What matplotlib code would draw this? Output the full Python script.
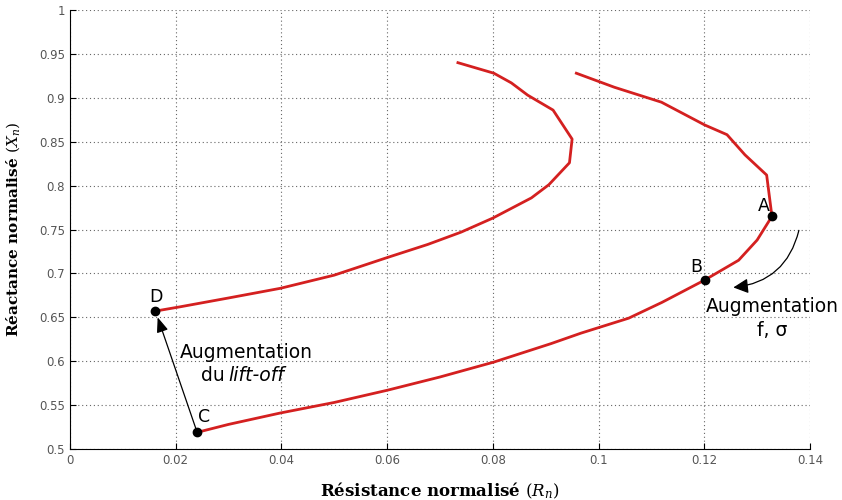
import numpy as np
import matplotlib.pyplot as plt

plt.rcParams['mathtext.fontset'] = 'dejavuserif'

# courbe interieure (D -> haut)
r_in = [0.0161, 0.0209, 0.0300, 0.0398, 0.0500, 0.0550, 0.0600, 0.0677, 0.0740,
        0.0800, 0.0873, 0.0906, 0.0945, 0.0950, 0.0914, 0.0866, 0.0835, 0.0802,
        0.0734]
x_in = [0.657, 0.662, 0.672, 0.683, 0.698, 0.708, 0.718, 0.733, 0.747,
        0.763, 0.786, 0.801, 0.826, 0.853, 0.886, 0.903, 0.917, 0.928,
        0.940]

# courbe exterieure (C -> haut)
r_out = [0.0241, 0.0300, 0.0398, 0.0500, 0.0601, 0.0700, 0.0802, 0.0910, 0.0967,
         0.1057, 0.1120, 0.1201, 0.1265, 0.1300, 0.1328, 0.1318, 0.1277, 0.1243,
         0.1201, 0.1119, 0.1030, 0.0958]
x_out = [0.519, 0.528, 0.541, 0.553, 0.567, 0.582, 0.599, 0.620, 0.632,
         0.649, 0.667, 0.6925, 0.715, 0.738, 0.765, 0.812, 0.835, 0.858,
         0.869, 0.895, 0.912, 0.928]

pts_lbl = ['A', 'B', 'C', 'D']
pts_r = [0.1328, 0.1201, 0.0241, 0.0161]
pts_x = [0.765, 0.6925, 0.519, 0.657]

fig = plt.figure(figsize=(8.42, 5.0), dpi=100)
ax = fig.add_axes([0.083, 0.102, 0.879, 0.878])

ax.plot(r_in, x_in, color='#d42020', lw=2)
ax.plot(r_out, x_out, color='#d42020', lw=2)
ax.plot(pts_r, pts_x, 'o', color='black', ms=6, zorder=5)

# etiquettes des points
ax.text(pts_r[0] - 0.0004, pts_x[0] + 0.001, pts_lbl[0], ha='right', va='bottom', fontsize=12.5)
ax.text(pts_r[1] - 0.0005, pts_x[1] + 0.005, pts_lbl[1], ha='right', va='bottom', fontsize=12.5)
ax.text(pts_r[2] + 0.0001, pts_x[2] + 0.007, pts_lbl[2], ha='left', va='bottom', fontsize=12.5)
ax.text(pts_r[3] + 0.0002, pts_x[3] + 0.006, pts_lbl[3], ha='center', va='bottom', fontsize=12.5)

# fleche lift-off
ax.annotate('', xy=(0.0166, 0.650), xytext=(pts_r[2] - 0.0002, pts_x[2] + 0.003),
            arrowprops=dict(arrowstyle='-|>,head_length=0.9,head_width=0.35',
                            color='black', lw=0.9, shrinkA=0, shrinkB=0))
ax.text(0.0334, 0.610, 'Augmentation', ha='center', va='center', fontsize=13.5)
ax.text(0.0293, 0.584, 'du', ha='right', va='center', fontsize=13.5)
ax.text(0.0300, 0.584, 'lift-off', ha='left', va='center', fontsize=13.5, style='italic')

# fleche f, sigma
ax.annotate('', xy=(0.1255, 0.684), xytext=(0.1379, 0.749),
            arrowprops=dict(arrowstyle='-|>,head_length=0.9,head_width=0.45',
                            color='black', lw=0.9, shrinkA=0, shrinkB=0,
                            connectionstyle='arc3,rad=-0.35'))
ax.text(0.1328, 0.662, 'Augmentation', ha='center', va='center', fontsize=13.5)
ax.text(0.1328, 0.635, 'f, σ', ha='center', va='center', fontsize=13.5)

ax.set_xlim(0, 0.14)
ax.set_ylim(0.5, 1.0)
ax.set_xticks(np.arange(0, 0.141, 0.02))
ax.set_yticks(np.arange(0.5, 1.001, 0.05))
ax.set_xticklabels(['0', '0.02', '0.04', '0.06', '0.08', '0.1', '0.12', '0.14'])
ax.set_yticklabels(['0.5', '0.55', '0.6', '0.65', '0.7', '0.75', '0.8', '0.85',
                    '0.9', '0.95', '1'])
ax.tick_params(direction='in', length=4, labelsize=8.5, labelcolor='#555555')
ax.grid(True, linestyle=(0, (1, 2.5)), color='#666666', lw=0.8)
ax.spines['top'].set_visible(False)
ax.spines['right'].set_visible(False)

ax.set_xlabel('Résistance normalisé ' + r'$(R_n)$', fontsize=12,
              fontweight='bold', family='DejaVu Serif', labelpad=10)
ax.set_ylabel('Réactance normalisé ' + r'$(X_n)$', fontsize=11,
              fontweight='bold', family='DejaVu Serif', labelpad=12)

fig.savefig('out.png', dpi=100)
